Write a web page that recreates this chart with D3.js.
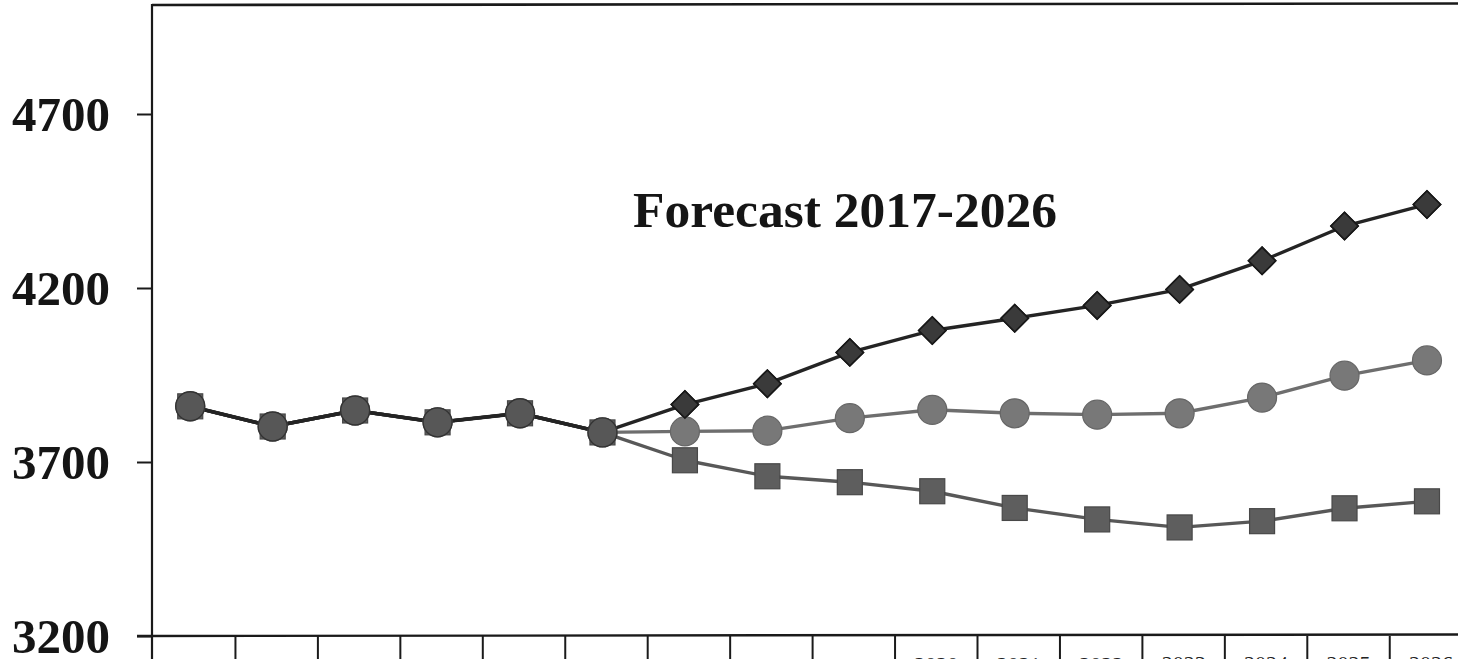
<!DOCTYPE html>
<html>
<head>
<meta charset="utf-8">
<script src="https://cdn.jsdelivr.net/npm/d3@7/dist/d3.min.js"></script>
<style>
  html, body { margin: 0; padding: 0; background: #fff; overflow: hidden; }
  svg { display: block; }
</style>
</head>
<body>
<svg id="chart" width="1458" height="659"></svg>
<script>
// ---- data ----
const years = ["2011","2012","2013","2014","2015","2016","2017","2018","2019","2020","2021","2022","2023","2024","2025","2026"];
const highSeries   = [3860,3802,3848,3814,3840,3785,3865,3925,4015,4078,4113,4150,4196,4278,4378,4440];
const middleSeries = [3860,3802,3848,3814,3840,3785,3788,3790,3826,3850,3840,3836,3840,3885,3948,3992];
const lowSeries    = [3860,3802,3848,3814,3840,3785,3705,3659,3642,3616,3568,3535,3512,3530,3567,3587];
const yTicks = [3200, 3700, 4200, 4700];
const title = "Forecast 2017-2026";

(function () {
// ---- layout ----
const W = 1458, H = 659;
const plotLeft = 152, plotBottom = 636, plotTop = 5;
const svg = d3.select("#chart");

const x = d3.scaleBand().domain(years).range([149, 149 + 16 * 82.45]).padding(0);
const y = d3.scaleLinear().domain([3200, 4700]).range([plotBottom, 114]);
const cx = d => x(d) + x.bandwidth() / 2;

// frame: top border and left axis line
svg.append("line").attr("x1", plotLeft).attr("x2", W + 5).attr("y1", plotTop).attr("y2", plotTop - 1.5)
  .attr("stroke", "#1a1a1a").attr("stroke-width", 2.6);
svg.append("line").attr("x1", plotLeft).attr("x2", plotLeft).attr("y1", plotTop - 1).attr("y2", H + 5)
  .attr("stroke", "#1a1a1a").attr("stroke-width", 2.2);

// y axis
const yAxis = svg.append("g").attr("transform", `translate(${plotLeft},0)`)
  .call(d3.axisLeft(y).tickValues(yTicks).tickSize(15).tickPadding(27).tickFormat(d3.format("d")));
yAxis.select(".domain").remove();
yAxis.selectAll(".tick line").attr("stroke", "#1a1a1a").attr("stroke-width", 2);
yAxis.selectAll(".tick text")
  .attr("font-family", "'Liberation Serif', 'Times New Roman', serif")
  .attr("font-weight", "bold").attr("font-size", 49).attr("fill", "#151515")
  .attr("dy", "0.33em");

// x axis (category boundaries as ticks, labels under the plot, mostly cut off as in the scan)
svg.append("line").attr("x1", 137).attr("x2", W + 5).attr("y1", plotBottom).attr("y2", plotBottom - 1.5)
  .attr("stroke", "#1a1a1a").attr("stroke-width", 2.4);
const bounds = years.map(d => x(d)).concat([x(years[years.length - 1]) + x.bandwidth()]);
svg.append("g").selectAll("line").data(bounds.slice(1)).join("line")
  .attr("x1", d => d + 4).attr("x2", d => d + 4)
  .attr("y1", plotBottom).attr("y2", H + 5)
  .attr("stroke", "#1a1a1a").attr("stroke-width", 2);
svg.append("g").selectAll("text").data(years).join("text")
  .attr("x", d => cx(d) + 4).attr("y", (d, i) => 675 - i * 0.3)
  .attr("text-anchor", "middle")
  .attr("font-family", "'Liberation Serif', serif").attr("font-size", 22)
  .attr("fill", "#222").text(d => d);

// series
const series = [
  { name: "low",    values: lowSeries,    line: "#585858", fill: "#5e5e5e", stroke: "#484848", shape: "square" },
  { name: "middle", values: middleSeries, line: "#6e6e6e", fill: "#787878", stroke: "#666", shape: "circle" },
  { name: "high",   values: highSeries,   line: "#242424", fill: "#3a3a3a", stroke: "#181818", shape: "diamond" }
];

const lineGen = d3.line().x((d, i) => cx(years[i])).y(d => y(d));

series.forEach(s => {
  svg.append("path").datum(s.values).attr("d", lineGen)
    .attr("fill", "none").attr("stroke", s.line).attr("stroke-width", 3.4)
    .attr("stroke-linejoin", "round");
});
svg.append("path").datum(highSeries.slice(0, 6)).attr("d", lineGen)
  .attr("fill", "none").attr("stroke", "#242424").attr("stroke-width", 3.6);

const diamond = d3.symbol().type(d3.symbolSquare).size(370);
function drawMarkers(s) {
  const g = svg.append("g");
  if (s.shape === "square") {
    g.selectAll("rect").data(s.values).join("rect")
      .attr("x", (d, i) => cx(years[i]) - 12.5).attr("y", d => y(d) - 12.5)
      .attr("width", 25).attr("height", 25)
      .attr("fill", s.fill).attr("stroke", s.stroke).attr("stroke-width", 1.2);
  } else if (s.shape === "circle") {
    g.selectAll("circle").data(s.values).join("circle")
      .attr("cx", (d, i) => cx(years[i])).attr("cy", d => y(d)).attr("r", 14.5)
      .attr("fill", s.fill).attr("stroke", s.stroke).attr("stroke-width", 1.2);
  } else {
    g.selectAll("path").data(s.values).join("path")
      .attr("d", diamond)
      .attr("transform", (d, i) => `translate(${cx(years[i])},${y(d)}) rotate(45)`)
      .attr("fill", s.fill).attr("stroke", s.stroke).attr("stroke-width", 1.6);
  }
}
drawMarkers(series[0]);
drawMarkers(series[2]);
drawMarkers(series[1]);
// shared history markers (all three overlap there)
svg.append("g").selectAll("circle").data(highSeries.slice(0, 6)).join("circle")
  .attr("cx", (d, i) => cx(years[i])).attr("cy", d => y(d)).attr("r", 14.5)
  .attr("fill", "#575757").attr("stroke", "#333").attr("stroke-width", 1.4);
svg.append("g").selectAll("path").data(highSeries.slice(6)).join("path")
  .attr("d", diamond)
  .attr("transform", (d, i) => `translate(${cx(years[i + 6])},${y(d)}) rotate(45)`)
  .attr("fill", "#3a3a3a").attr("stroke", "#181818").attr("stroke-width", 1.6);

// title
svg.append("text").attr("x", 845).attr("y", 227).attr("text-anchor", "middle")
  .attr("font-family", "'Liberation Serif', 'Times New Roman', serif")
  .attr("font-weight", "bold").attr("font-size", 51.5).attr("fill", "#151515")
  .text(title);
})();
</script>
</body>
</html>
